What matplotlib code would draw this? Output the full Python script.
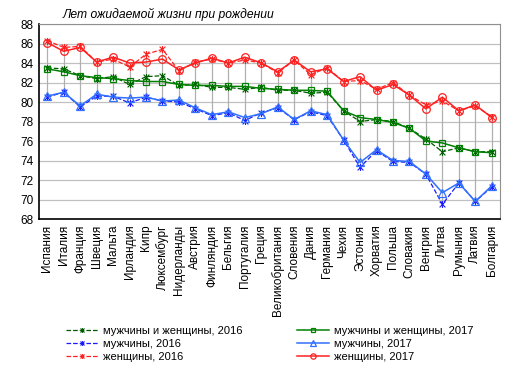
import matplotlib.pyplot as plt
from matplotlib.path import Path

# country order as on the chart
countries = ['Испания', 'Италия', 'Франция', 'Швеция', 'Мальта', 'Ирландия', 'Кипр',
             'Люксембург', 'Нидерланды', 'Австрия', 'Финляндия', 'Бельгия', 'Португалия',
             'Греция', 'Великобритания', 'Словения', 'Дания', 'Германия', 'Чехия', 'Эстония',
             'Хорватия', 'Польша', 'Словакия', 'Венгрия', 'Литва', 'Румыния', 'Латвия', 'Болгария']

total_2016 = [83.5, 83.4, 82.7, 82.4, 82.6, 81.8, 82.6, 82.7, 81.7, 81.8, 81.5, 81.5, 81.3, 81.5,
              81.2, 81.2, 80.9, 81.0, 79.1, 78.0, 78.2, 78.0, 77.3, 76.2, 74.9, 75.3, 74.9, 74.9]
total_2017 = [83.4, 83.1, 82.7, 82.5, 82.4, 82.2, 82.1, 82.1, 81.8, 81.7, 81.7, 81.6, 81.6, 81.4,
              81.3, 81.2, 81.2, 81.1, 79.1, 78.4, 78.2, 77.9, 77.3, 76.0, 75.8, 75.3, 74.9, 74.8]
male_2016 = [80.5, 81.0, 79.5, 80.6, 80.6, 79.9, 80.5, 80.1, 80.0, 79.3, 78.6, 78.9, 78.1, 78.9,
             79.4, 78.2, 79.0, 78.6, 76.1, 73.3, 75.0, 73.9, 73.8, 72.6, 69.5, 71.7, 69.8, 71.3]
male_2017 = [80.6, 81.0, 79.6, 80.8, 80.5, 80.4, 80.5, 80.1, 80.2, 79.4, 78.7, 79.0, 78.4, 78.8,
             79.5, 78.2, 79.1, 78.7, 76.1, 73.8, 75.1, 74.0, 73.9, 72.6, 70.7, 71.7, 69.8, 71.4]
female_2016 = [86.3, 85.6, 85.7, 84.1, 84.4, 83.6, 84.9, 85.4, 83.2, 84.1, 84.4, 84.0, 84.3, 84.0,
               83.0, 84.3, 82.8, 83.5, 82.1, 82.2, 81.3, 82.0, 80.7, 79.7, 80.1, 79.1, 79.6, 78.5]
female_2017 = [86.1, 85.2, 85.6, 84.1, 84.6, 84.0, 84.1, 84.4, 83.3, 84.0, 84.5, 84.0, 84.6, 84.0,
               83.1, 84.3, 83.1, 83.4, 82.1, 82.6, 81.2, 81.8, 80.7, 79.3, 80.5, 79.1, 79.7, 78.4]

labels = ['мужчины и женщины, 2016', 'мужчины, 2016', 'женщины, 2016',
          'мужчины и женщины, 2017', 'мужчины, 2017', 'женщины, 2017']

plt.rcParams['font.family'] = ['Liberation Sans', 'DejaVu Sans']

# excel-like "star" marker: an x with a vertical bar
star = Path([(-1, -1), (1, 1), (-1, 1), (1, -1), (0, -1.2), (0, 1.2)],
            [Path.MOVETO, Path.LINETO, Path.MOVETO, Path.LINETO, Path.MOVETO, Path.LINETO])

fig = plt.figure(figsize=(5.16, 3.68), dpi=100)
ax = fig.add_axes([39 / 516, 1 - 219 / 368, 461 / 516, 195 / 368])

x = list(range(len(countries)))

# high-low lines
series = [total_2016, male_2016, female_2016, total_2017, male_2017, female_2017]
lows = [min(v) for v in zip(*series)]
highs = [max(v) for v in zip(*series)]
ax.vlines(x, lows, highs, color='#b0b0b0', lw=0.9, zorder=1)

h = []
h += ax.plot(x, total_2016, ls='--', color='#005a00', lw=0.9, marker=star, ms=5, mew=0.8, zorder=3)
h += ax.plot(x, male_2016, ls='--', color='#1a1aff', lw=0.9, marker=star, ms=5, mew=0.8, zorder=3)
h += ax.plot(x, female_2016, ls='--', color='#ff2020', lw=0.9, marker=star, ms=5, mew=0.8, zorder=3)
h += ax.plot(x, total_2017, color='#008000', lw=1.1, marker='s', ms=5, mfc='none', mew=0.9, zorder=4)
h += ax.plot(x, male_2017, color='#3070ff', lw=1.1, marker='^', ms=5.5, mfc='none', mew=0.9, zorder=4)
h += ax.plot(x, female_2017, color='#ff2020', lw=1.1, marker='o', ms=5.5, mfc='none', mew=0.9, zorder=4)

ax.set_ylim(68, 88)
ax.set_yticks(range(68, 89, 2))
ax.set_xlim(-0.5, len(countries) - 0.5)
ax.set_xticks(x)
ax.set_xticklabels(countries, rotation=90, fontsize=8.5)
ax.tick_params(axis='y', labelsize=8.5, length=0, pad=4)
ax.tick_params(axis='x', length=0, pad=4)
ax.grid(axis='y', color='#c0c0c0', lw=0.9)
ax.set_axisbelow(True)
for s in ['top', 'right']:
    ax.spines[s].set_color('#909090')
for s in ['left', 'bottom']:
    ax.spines[s].set_color('black')
    ax.spines[s].set_linewidth(1.2)

fig.text(63 / 516, 1 - 14 / 368, 'Лет ожидаемой жизни при рождении', fontsize=8.7,
         style='italic', va='center', ha='left')

fig.legend(h, labels, ncol=2, loc='upper left', bbox_to_anchor=(56 / 516, 1 - 316 / 368),
           frameon=False, fontsize=8, handlelength=2.9, handletextpad=0.45,
           columnspacing=4.9, labelspacing=0.25, markerscale=0.7)

plt.savefig('out.png', dpi=100)
